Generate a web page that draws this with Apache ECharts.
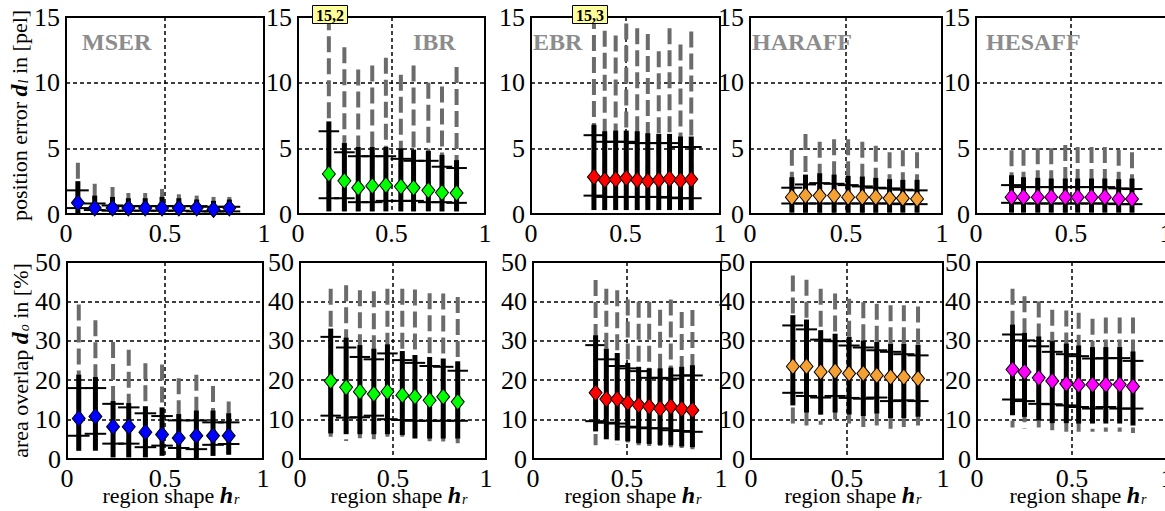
<!DOCTYPE html>
<html>
<head>
<meta charset="utf-8">
<style>
html, body { margin: 0; padding: 0; background: #fff; }
#chart { width: 1165px; height: 511px; }
</style>
<script src="https://cdn.jsdelivr.net/npm/echarts/dist/echarts.min.js"></script>
</head>
<body>
<div id="chart"></div>
<script>
// region shape bins (x positions) per detector
var mserX   = [0.06, 0.145, 0.235, 0.315, 0.40, 0.485, 0.57, 0.66, 0.745, 0.825];
var ibrX    = [0.165, 0.248, 0.322, 0.397, 0.47, 0.55, 0.618, 0.697, 0.77, 0.848];
var ebrX    = [0.333, 0.39, 0.448, 0.504, 0.562, 0.618, 0.676, 0.733, 0.791, 0.848];
var harX    = [0.218, 0.289, 0.363, 0.438, 0.511, 0.585, 0.655, 0.727, 0.796, 0.87];
var hesX    = [0.187, 0.25, 0.325, 0.396, 0.47, 0.535, 0.608, 0.678, 0.751, 0.821];

// position error d_l (top row)
var mserPosMed    = [0.85, 0.45, 0.45, 0.45, 0.45, 0.45, 0.45, 0.45, 0.35, 0.45];
var mserPosGrayLo = [0.1, 0.1, 0.1, 0.1, 0.1, 0.1, 0.1, 0.1, 0.1, 0.1];
var mserPosGrayHi = [3.9, 2.3, 2.05, 1.6, 1.6, 1.9, 1.5, 1.4, 1.3, 1.3];
var mserPosBlkLo  = [0, 0, 0, 0, 0, 0, 0, 0, 0, 0];
var mserPosBlkHi  = [2.5, 1.4, 1.3, 1.2, 1.2, 1.3, 1.2, 1.1, 1.0, 1.1];
var mserPosStdLo  = [0.45, 0.3, 0.25, 0.25, 0.25, 0.25, 0.25, 0.2, 0.2, 0.2];
var mserPosStdHi  = [1.8, 0.8, 0.65, 0.6, 0.6, 0.6, 0.6, 0.6, 0.55, 0.55];

var ibrPosMed    = [3.05, 2.53, 2.0, 2.14, 2.2, 2.09, 2.0, 1.8, 1.63, 1.6];
var ibrPosGrayLo = [0.2, 0.2, 0.2, 0.2, 0.2, 0.2, 0.2, 0.2, 0.2, 0.2];
var ibrPosGrayHi = [15.2, 12.7, 11.0, 11.3, 11.9, 10.6, 11.3, 10.0, 9.7, 11.2];
var ibrPosBlkLo  = [0.2, 0.2, 0.2, 0.2, 0.2, 0.2, 0.2, 0.2, 0.2, 0.2];
var ibrPosBlkHi  = [7.05, 5.4, 5.1, 5.1, 5.1, 5.0, 4.9, 4.8, 4.5, 4.1];
var ibrPosStdLo  = [1.2, 1.2, 0.9, 0.9, 1.0, 1.0, 1.0, 0.9, 0.9, 0.85];
var ibrPosStdHi  = [6.3, 4.7, 4.4, 4.4, 4.4, 4.2, 4.05, 4.05, 3.6, 3.5];

var ebrPosMed    = [2.82, 2.59, 2.64, 2.74, 2.59, 2.51, 2.59, 2.69, 2.56, 2.64];
var ebrPosGrayLo = [0.3, 0.3, 0.3, 0.3, 0.3, 0.3, 0.3, 0.3, 0.3, 0.3];
var ebrPosGrayHi = [15.3, 13.95, 13.6, 14.5, 14.15, 13.7, 12.4, 14.15, 12.9, 13.9];
var ebrPosBlkLo  = [0.3, 0.3, 0.3, 0.3, 0.3, 0.3, 0.3, 0.3, 0.3, 0.3];
var ebrPosBlkHi  = [6.8, 6.3, 6.35, 6.35, 6.3, 6.15, 6.1, 6.1, 5.9, 5.9];
var ebrPosStdLo  = [1.4, 1.3, 1.3, 1.3, 1.3, 1.3, 1.3, 1.25, 1.2, 1.2];
var ebrPosStdHi  = [6.0, 5.5, 5.5, 5.5, 5.4, 5.4, 5.4, 5.4, 5.1, 5.1];

var harPosMed    = [1.28, 1.4, 1.4, 1.4, 1.28, 1.28, 1.28, 1.2, 1.2, 1.15];
var harPosGrayLo = [0.1, 0.1, 0.1, 0.1, 0.1, 0.1, 0.1, 0.1, 0.1, 0.1];
var harPosGrayHi = [4.9, 6.1, 5.5, 5.7, 5.7, 5.5, 5.2, 4.7, 4.85, 4.7];
var harPosBlkLo  = [0.1, 0.1, 0.1, 0.1, 0.1, 0.1, 0.1, 0.1, 0.1, 0.1];
var harPosBlkHi  = [2.8, 3.0, 3.1, 3.0, 2.9, 2.85, 2.75, 2.65, 2.6, 2.6];
var harPosStdLo  = [0.8, 0.8, 0.8, 0.8, 0.8, 0.8, 0.8, 0.8, 0.75, 0.75];
var harPosStdHi  = [2.0, 2.25, 2.35, 2.3, 2.2, 2.1, 2.0, 1.95, 1.85, 1.8];

var hesPosMed    = [1.28, 1.28, 1.28, 1.28, 1.28, 1.28, 1.28, 1.28, 1.15, 1.15];
var hesPosGrayLo = [0.1, 0.1, 0.1, 0.1, 0.1, 0.1, 0.1, 0.1, 0.1, 0.1];
var hesPosGrayHi = [4.85, 4.9, 5.0, 5.0, 5.25, 5.1, 5.1, 5.1, 4.9, 4.7];
var hesPosBlkLo  = [0.1, 0.1, 0.1, 0.1, 0.1, 0.1, 0.1, 0.1, 0.1, 0.1];
var hesPosBlkHi  = [2.95, 2.8, 2.75, 2.7, 2.7, 2.7, 2.7, 2.7, 2.65, 2.7];
var hesPosStdLo  = [0.85, 0.8, 0.8, 0.8, 0.8, 0.8, 0.8, 0.8, 0.75, 0.75];
var hesPosStdHi  = [2.2, 2.05, 2.05, 2.05, 2.05, 2.05, 2.05, 2.05, 1.95, 1.9];

// area overlap d_o (bottom row)
var mserAreaMed    = [10.3, 10.8, 8.2, 8.2, 6.8, 6.2, 5.3, 5.9, 5.9, 5.9];
var mserAreaGrayLo = [2.1, 1.9, 0.8, 0.8, 0.8, 1.0, 0.2, 0.2, 0.8, 1.1];
var mserAreaGrayHi = [39.2, 35.2, 29.7, 27.7, 24.3, 24.0, 20.5, 21.4, 18.5, 14.6];
var mserAreaBlkLo  = [2.1, 2.1, 0.4, 0.4, 0.4, 0.8, 0, 0, 0.8, 1.1];
var mserAreaBlkHi  = [21.4, 20.8, 14.7, 14.2, 13.4, 13.1, 11.4, 12.3, 12.3, 11.6];
var mserAreaStdLo  = [5.9, 6.4, 3.9, 3.9, 3.0, 3.4, 2.8, 2.5, 3.6, 3.8];
var mserAreaStdHi  = [18.0, 18.0, 14.0, 13.1, 11.6, 10.9, 9.8, 9.8, 9.3, 9.3];

var ibrAreaMed    = [19.8, 18.2, 17.1, 16.5, 17.1, 16.2, 15.8, 14.9, 15.8, 14.5];
var ibrAreaGrayLo = [4.6, 4.6, 4.6, 4.6, 4.6, 4.3, 4.1, 4.0, 4.0, 4.0];
var ibrAreaGrayHi = [43.2, 44.1, 42.8, 42.6, 43.2, 43.2, 43.0, 42.1, 42.0, 41.1];
var ibrAreaBlkLo  = [6.5, 6.3, 6.3, 6.3, 6.3, 6.1, 5.2, 5.2, 5.2, 5.2];
var ibrAreaBlkHi  = [33.1, 30.8, 28.9, 28.0, 29.1, 27.4, 26.4, 25.9, 25.5, 24.8];
var ibrAreaStdLo  = [11.0, 10.5, 10.6, 11.0, 10.1, 9.9, 9.7, 9.7, 9.7, 9.7];
var ibrAreaStdHi  = [31.0, 28.3, 25.9, 25.3, 26.8, 25.1, 24.4, 23.6, 23.4, 22.4];

var ebrAreaMed    = [16.8, 15.2, 15.2, 14.3, 13.7, 13.3, 12.8, 13.3, 12.7, 12.4];
var ebrAreaGrayLo = [3.5, 4.2, 3.7, 4.2, 3.5, 3.3, 3.3, 3.0, 2.8, 2.5];
var ebrAreaGrayHi = [45.4, 43.2, 42.8, 40.5, 39.9, 39.9, 37.9, 40.5, 37.3, 37.8];
var ebrAreaBlkLo  = [7.0, 5.0, 4.7, 4.5, 4.0, 3.8, 3.6, 3.5, 3.2, 3.0];
var ebrAreaBlkHi  = [31.4, 28.0, 26.9, 24.4, 23.4, 23.0, 23.0, 23.2, 23.4, 23.8];
var ebrAreaStdLo  = [9.6, 9.2, 9.0, 8.2, 8.0, 7.8, 7.8, 7.3, 7.1, 6.9];
var ebrAreaStdHi  = [28.9, 25.3, 23.6, 23.0, 22.3, 20.6, 20.6, 20.4, 21.2, 21.2];

var harAreaMed    = [23.5, 23.5, 22.1, 22.3, 21.7, 21.7, 21.2, 20.8, 20.8, 20.4];
var harAreaGrayLo = [8.1, 8.5, 8.7, 8.5, 9.0, 8.1, 8.5, 7.7, 8.1, 8.5];
var harAreaGrayHi = [46.6, 45.5, 43.2, 42.0, 40.7, 39.8, 39.4, 39.0, 39.0, 38.7];
var harAreaBlkLo  = [13.6, 11.8, 11.3, 11.8, 11.3, 10.9, 11.5, 10.4, 10.4, 10.7];
var harAreaBlkHi  = [36.5, 35.4, 32.7, 31.8, 31.0, 30.1, 29.7, 29.3, 29.3, 29.0];
var harAreaStdLo  = [16.8, 16.0, 15.6, 16.0, 15.5, 15.3, 15.6, 14.7, 14.9, 14.7];
var harAreaStdHi  = [33.9, 32.9, 30.3, 29.9, 28.8, 28.3, 27.6, 27.2, 26.6, 26.3];

var hesAreaMed    = [22.7, 22.1, 20.6, 19.8, 19.1, 18.8, 18.9, 18.9, 18.9, 18.4];
var hesAreaGrayLo = [8.0, 7.7, 7.3, 7.3, 6.9, 6.9, 6.9, 6.9, 6.9, 6.6];
var hesAreaGrayHi = [43.2, 41.3, 40.0, 37.9, 37.7, 37.1, 35.6, 35.9, 35.9, 35.9];
var hesAreaBlkLo  = [11.1, 10.7, 9.8, 9.1, 9.1, 9.0, 9.0, 9.0, 9.0, 8.5];
var hesAreaBlkHi  = [34.1, 32.0, 31.1, 29.9, 29.3, 28.8, 28.4, 28.4, 28.4, 27.3];
var hesAreaStdLo  = [15.1, 14.7, 14.0, 13.9, 13.6, 13.2, 12.8, 13.2, 12.8, 12.8];
var hesAreaStdHi  = [31.6, 30.1, 28.6, 27.2, 26.6, 26.1, 25.5, 25.6, 25.6, 24.9];

var detectors = ['MSER', 'IBR', 'EBR', 'HARAFF', 'HESAFF'];
var colors = ['#0000ff', '#00ff00', '#ff0000', '#f5a033', '#ff00ff'];
var yMax = [15, 50];
var yStep = [5, 10];
var overflowLabels = [[1, '15,2'], [2, '15,3']];

var panels = [
  [mserX, mserPosMed, mserPosGrayLo, mserPosGrayHi, mserPosBlkLo, mserPosBlkHi, mserPosStdLo, mserPosStdHi],
  [ibrX, ibrPosMed, ibrPosGrayLo, ibrPosGrayHi, ibrPosBlkLo, ibrPosBlkHi, ibrPosStdLo, ibrPosStdHi],
  [ebrX, ebrPosMed, ebrPosGrayLo, ebrPosGrayHi, ebrPosBlkLo, ebrPosBlkHi, ebrPosStdLo, ebrPosStdHi],
  [harX, harPosMed, harPosGrayLo, harPosGrayHi, harPosBlkLo, harPosBlkHi, harPosStdLo, harPosStdHi],
  [hesX, hesPosMed, hesPosGrayLo, hesPosGrayHi, hesPosBlkLo, hesPosBlkHi, hesPosStdLo, hesPosStdHi],
  [mserX, mserAreaMed, mserAreaGrayLo, mserAreaGrayHi, mserAreaBlkLo, mserAreaBlkHi, mserAreaStdLo, mserAreaStdHi],
  [ibrX, ibrAreaMed, ibrAreaGrayLo, ibrAreaGrayHi, ibrAreaBlkLo, ibrAreaBlkHi, ibrAreaStdLo, ibrAreaStdHi],
  [ebrX, ebrAreaMed, ebrAreaGrayLo, ebrAreaGrayHi, ebrAreaBlkLo, ebrAreaBlkHi, ebrAreaStdLo, ebrAreaStdHi],
  [harX, harAreaMed, harAreaGrayLo, harAreaGrayHi, harAreaBlkLo, harAreaBlkHi, harAreaStdLo, harAreaStdHi],
  [hesX, hesAreaMed, hesAreaGrayLo, hesAreaGrayHi, hesAreaBlkLo, hesAreaBlkHi, hesAreaStdLo, hesAreaStdHi]
];

var FONT = 'Liberation Serif';
var HALF = 0.055;
var topLefts = [66, 298, 531, 750, 976], topWidths = [198, 187, 189, 192, 190];
var botLefts = [67, 300, 533, 751, 977], botWidths = [196, 186, 188, 192, 190];

var chartDom = document.getElementById('chart');
var myChart = echarts.init(chartDom, null, { renderer: 'svg' });

function renderBin(params, api) {
  var x = api.value(0);
  var g1 = api.coord([x, api.value(2)]), g0 = api.coord([x, api.value(1)]);
  var b1 = api.coord([x, api.value(4)]), b0 = api.coord([x, api.value(3)]);
  var sl0 = api.coord([x - HALF, api.value(5)]), sr0 = api.coord([x + HALF, api.value(5)]);
  var sl1 = api.coord([x - HALF, api.value(6)]), sr1 = api.coord([x + HALF, api.value(6)]);
  return {
    type: 'group',
    children: [
      { type: 'line', shape: { x1: g1[0], y1: g1[1], x2: g0[0], y2: g0[1] },
        style: { stroke: '#6b6b6b', lineWidth: 4, lineDash: [16, 6] } },
      { type: 'line', shape: { x1: b1[0], y1: b1[1], x2: b0[0], y2: b0[1] },
        style: { stroke: '#000', lineWidth: 5 } },
      { type: 'line', shape: { x1: sl1[0], y1: sl1[1], x2: sr1[0], y2: sr1[1] },
        style: { stroke: '#000', lineWidth: 2 } },
      { type: 'line', shape: { x1: sl0[0], y1: sl0[1], x2: sr0[0], y2: sr0[1] },
        style: { stroke: '#000', lineWidth: 2 } }
    ]
  };
}

var grids = [], xAxes = [], yAxes = [], series = [], titles = [];
var richName = {
  t: { fontFamily: FONT, fontSize: 22, color: '#000' },
  b: { fontFamily: FONT, fontSize: 24, fontWeight: 'bold', fontStyle: 'italic', color: '#000' },
  s: { fontFamily: FONT, fontSize: 14, fontStyle: 'italic', color: '#000', padding: [8, 0, 0, 1] }
};

for (var i = 0; i < 10; i++) {
  var row = i < 5 ? 0 : 1;
  var col = i % 5;
  grids.push({
    left: row === 0 ? topLefts[col] : botLefts[col],
    width: row === 0 ? topWidths[col] : botWidths[col],
    top: row === 0 ? 17 : 262,
    height: 197,
    show: true,
    borderColor: '#000',
    borderWidth: 2,
    containLabel: false,
    outerBoundsMode: 'none'
  });
  xAxes.push({
    gridIndex: i, type: 'value', min: 0, max: 1, interval: 0.5,
    axisLine: { show: false }, axisTick: { show: false },
    axisLabel: { fontFamily: FONT, fontSize: 26, color: '#000', margin: 6 },
    splitLine: { show: true, lineStyle: { color: '#000', type: [4, 3], width: 1.5 } },
    name: row === 1 ? '{t|region shape }{b|h}{s|r}' : '',
    nameLocation: 'middle', nameGap: 24, nameMoveOverlap: false,
    nameTextStyle: { rich: richName, padding: [0, 0, 0, 12] }
  });
  yAxes.push({
    gridIndex: i, type: 'value', min: 0, max: yMax[row], interval: yStep[row],
    axisLine: { show: false }, axisTick: { show: false },
    axisLabel: { fontFamily: FONT, fontSize: 26, color: '#000', margin: 6 },
    splitLine: { show: true, lineStyle: { color: '#000', type: [4, 3], width: 1.5 } },
    name: col !== 0 ? '' : (row === 0 ? '{t|position error }{b|d}{s|l}{t| in [pel]}' : '{t|area overlap }{b|d}{s|o}{t| in [%]}'),
    nameLocation: 'middle', nameRotate: 90, nameGap: 35, nameMoveOverlap: false,
    nameTextStyle: { rich: richName }
  });
  var p = panels[i];
  var bins = p[0].map(function (x, k) {
    return [x, p[2][k], p[3][k], p[4][k], p[5][k], p[6][k], p[7][k]];
  });
  series.push({
    type: 'custom', xAxisIndex: i, yAxisIndex: i, data: bins,
    renderItem: renderBin, clip: true, silent: true,
    encode: { x: 0, y: [1, 2, 3, 4, 5, 6] }, z: 2
  });
  series.push({
    type: 'scatter', xAxisIndex: i, yAxisIndex: i,
    data: p[0].map(function (x, k) { return [x, p[1][k]]; }),
    symbol: 'diamond', symbolSize: [13, 16],
    itemStyle: { color: colors[col], borderColor: '#000', borderWidth: 1, opacity: 1 },
    z: 5, silent: true
  });
}

// detector names in the top panels
var nameLefts = [82, 413, 533, 752, 986];
detectors.forEach(function (d, k) {
  titles.push({
    text: d, left: nameLefts[k], top: 30, padding: 0,
    textStyle: { fontFamily: FONT, fontSize: 24, fontWeight: 'bold', color: '#8c8c8c' }
  });
});
// values clipped at the top of the axis
overflowLabels.forEach(function (o) {
  var left = o[0] === 1 ? 312 : 572;
  titles.push({
    text: o[1], left: left, top: 5, padding: [2, 4, 1, 4],
    backgroundColor: '#ffff99', borderColor: '#000', borderWidth: 1,
    textStyle: { fontFamily: FONT, fontSize: 16, fontWeight: 'bold', color: '#000' }
  });
});

var option = {
  animation: false,
  backgroundColor: '#fff',
  title: titles,
  grid: grids,
  xAxis: xAxes,
  yAxis: yAxes,
  series: series
};

myChart.setOption(option);
window.addEventListener('resize', () => myChart.resize());
</script>
</body>
</html>
